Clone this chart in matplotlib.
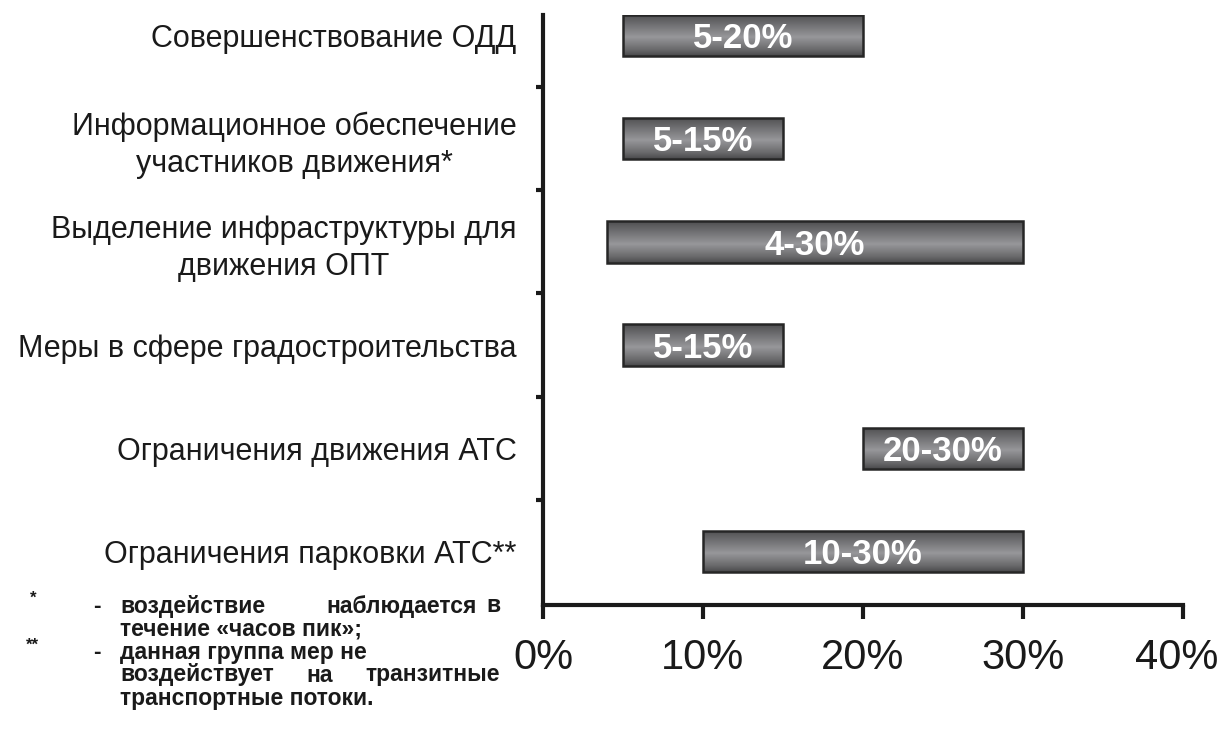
import numpy as np
import matplotlib
matplotlib.use("Agg")
import matplotlib.pyplot as plt
import matplotlib.transforms as mtransforms
from matplotlib.colors import LinearSegmentedColormap
from matplotlib import font_manager

categories = [
    "Совершенствование ОДД",
    "Информационное обеспечение\nучастников движения*",
    "Выделение инфраструктуры для\nдвижения ОПТ",
    "Меры в сфере градостроительства",
    "Ограничения движения АТС",
    "Ограничения парковки АТС**",
]
range_start = [5, 5, 4, 5, 20, 10]
range_end = [20, 15, 30, 15, 30, 30]
bar_labels = ["5-20%", "5-15%", "4-30%", "5-15%", "20-30%", "10-30%"]
x_ticks = [0, 10, 20, 30, 40]
x_ticklabels = ["0%", "10%", "20%", "30%", "40%"]

names = {f.name for f in font_manager.fontManager.ttflist}
base_font = "Liberation Sans" if "Liberation Sans" in names else "DejaVu Sans"
plt.rcParams["font.family"] = [base_font, "DejaVu Sans"]

TXT = "#1a1a1a"

fig = plt.figure(figsize=(12.22, 7.38), dpi=100)
ax = fig.add_axes([543 / 1222, (738 - 605) / 738, (1183 - 543) / 1222, (605 - 15) / 738])

y = np.arange(len(categories))
ax.set_xlim(0, 40)
ax.set_ylim(5.52, -0.2)

grad_cmap = LinearSegmentedColormap.from_list(
    "bar", [(0.0, "#4e4e50"), (0.12, "#5f5f61"), (0.55, "#97979a"), (0.85, "#6a6a6c"), (1.0, "#4a4a4c")]
)
grad = np.linspace(0, 1, 64).reshape(-1, 1)
h = 0.4
widths = [e - s for s, e in zip(range_start, range_end)]
bars = ax.barh(y, widths, left=range_start, height=h, facecolor="none",
               edgecolor="#262626", linewidth=1.8, zorder=3)
for b, s, e, yi, lab in zip(bars, range_start, range_end, y, bar_labels):
    im = ax.imshow(grad, cmap=grad_cmap, aspect="auto",
                   extent=(s, e, yi + h / 2, yi - h / 2), zorder=2, origin="upper")
    im.set_clip_path(b)
    ax.text((s + e) / 2, yi + 0.03, lab, ha="center", va="center", color="white",
            fontsize=25, fontweight="bold", zorder=4)

ax.set_xlim(0, 40)
ax.set_ylim(5.52, -0.2)

for sp in ["top", "right"]:
    ax.spines[sp].set_visible(False)
ax.spines["left"].set_linewidth(3)
ax.spines["bottom"].set_linewidth(3)
ax.spines["left"].set_color(TXT)
ax.spines["bottom"].set_color(TXT)

ax.set_yticks(y)
ax.set_yticklabels(categories, fontsize=22, color=TXT, ha="right", multialignment="center")
ax.tick_params(axis="y", which="major", length=0, pad=19)
ax.set_yticks(np.arange(0.5, 5, 1), minor=True)
ax.tick_params(axis="y", which="minor", length=5, width=3, color=TXT, direction="out")
for t in ax.get_yticklabels():
    t.set_linespacing(1.3)

ax.set_xticks(x_ticks)
ax.set_xticklabels(x_ticklabels, fontsize=30, color=TXT)
ax.tick_params(axis="x", length=10, width=3, color=TXT, pad=14)
last = ax.get_xticklabels()[-1]
last.set_transform(last.get_transform() + mtransforms.ScaledTranslation(-6 / 100, 0, fig.dpi_scale_trans))

# footnotes
fs = 16.5
fig.text(30 / 1222, 1 - 598 / 738, "*", fontsize=12, fontweight="bold", color=TXT, ha="left", va="center")
fig.text(26 / 1222, 1 - 645 / 738, "**", fontsize=12, fontweight="bold", color=TXT, ha="left", va="center")
fig.text(97 / 1222, 1 - 606 / 738, "-", fontsize=fs, fontweight="bold", color=TXT, ha="center", va="center")
fig.text(97 / 1222, 1 - 652 / 738, "-", fontsize=fs, fontweight="bold", color=TXT, ha="center", va="center")

lines = [
    (606, [("воздействие", 120, "left"), ("наблюдается", 402, "center"), ("в", 500, "right")]),
    (629, [("течение «часов пик»;", 120, "left")]),
    (652, [("данная группа мер не", 120, "left")]),
    (675, [("воздействует", 120, "left"), ("на", 320, "center"), ("транзитные", 500, "right")]),
    (698, [("транспортные потоки.", 120, "left")]),
]
for yy, words in lines:
    for w, xx, ha in words:
        fig.text(xx / 1222, 1 - yy / 738, w, fontsize=fs, fontweight="bold", color=TXT,
                 ha=ha, va="center")

fig.savefig("out.png", dpi=100, facecolor="white")
